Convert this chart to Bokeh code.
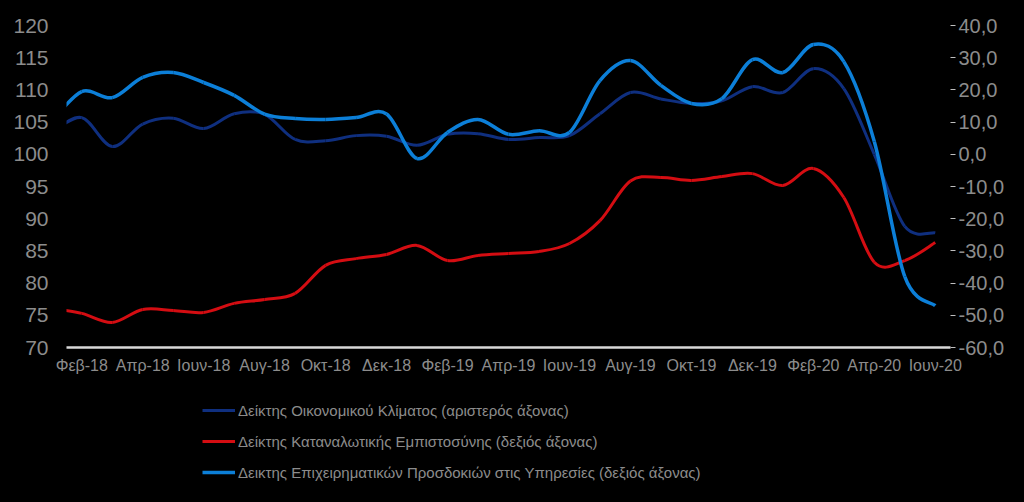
import numpy as np
from bokeh.plotting import figure
from bokeh.layouts import column
from bokeh.models import Range1d, LinearAxis, FixedTicker, Legend, LegendItem, ColumnDataSource
from bokeh.embed import file_html
from bokeh.resources import INLINE

# ---- data (monthly, Jan-18 .. Jun-20) ----
months = ["Ιαν-18", "Φεβ-18", "Μαρ-18", "Απρ-18", "Μαϊ-18", "Ιουν-18", "Ιουλ-18", "Αυγ-18",
          "Σεπ-18", "Οκτ-18", "Νοε-18", "Δεκ-18",
          "Ιαν-19", "Φεβ-19", "Μαρ-19", "Απρ-19", "Μαϊ-19", "Ιουν-19", "Ιουλ-19", "Αυγ-19",
          "Σεπ-19", "Οκτ-19", "Νοε-19", "Δεκ-19",
          "Ιαν-20", "Φεβ-20", "Μαρ-20", "Απρ-20", "Μαϊ-20", "Ιουν-20"]

economic_climate = [103.3, 105.7, 101.2, 104.7, 105.6, 104.0, 106.3, 106.2, 102.3, 102.1, 102.9, 102.8,
                    101.4, 103.1, 103.2, 102.3, 102.6, 102.9, 106.3, 109.6, 108.6, 107.9, 108.3, 110.5,
                    109.6, 113.3, 110.2, 100.0, 88.8, 87.8]

consumer_confidence = [-47.8, -49.4, -52.2, -48.2, -48.5, -49.1, -46.3, -45.1, -43.2, -34.5, -32.4, -31.1,
                       -28.3, -33.0, -31.4, -30.8, -30.2, -27.7, -20.6, -8.3, -7.2, -8.1, -6.9, -6.0,
                       -9.7, -4.4, -13.4, -33.5, -33.0, -27.4]

services_expectations = [10.0, 19.5, 17.6, 23.9, 25.4, 22.3, 18.3, 12.5, 11.1, 10.8, 11.4, 12.5,
                         -1.3, 6.8, 10.8, 6.2, 7.3, 6.8, 22.9, 29.1, 21.4, 15.8, 17.3, 29.4,
                         25.4, 34.1, 28.8, 4.0, -38.0, -47.0]

series_names = ["Δείκτης Οικονομικού Κλίματος (αριστερός άξονας)",
                "Δείκτης Καταναλωτικής Εμπιστοσύνης (δεξιός άξονας)",
                "Δεικτης Επιχειρηματικών Προσδοκιών στις Υπηρεσίες (δεξιός άξονας)"]

left_ticks = [70, 75, 80, 85, 90, 95, 100, 105, 110, 115, 120]
right_ticks = [-60, -50, -40, -30, -20, -10, 0, 10, 20, 30, 40]

# x positions: month index, Feb-18 = 0
x_idx = np.arange(len(months)) - 1
label_idx = list(range(0, 29, 2))

NAVY = "#0f2f7f"
RED = "#d40d12"
BLUE = "#0c7fd8"
GREY = "#8c8c8c"
FONT = "Liberation Sans"


def smooth_source(xs, ys):
    """Bezier segments (Catmull-Rom style control points) between consecutive data points."""
    xs = np.asarray(xs, float)
    ys = np.asarray(ys, float)
    n = len(xs)
    px = np.concatenate([[xs[0]], xs, [xs[-1]]])
    py = np.concatenate([[ys[0]], ys, [ys[-1]]])
    i = np.arange(1, n)
    x0, y0 = px[i], py[i]
    x1, y1 = px[i + 1], py[i + 1]
    cx0 = x0 + (px[i + 1] - px[i - 1]) / 6.0
    cy0 = y0 + (py[i + 1] - py[i - 1]) / 6.0
    cx1 = x1 - (px[i + 2] - px[i]) / 6.0
    cy1 = y1 - (py[i + 2] - py[i]) / 6.0
    return ColumnDataSource(dict(x0=x0, y0=y0, x1=x1, y1=y1, cx0=cx0, cy0=cy0, cx1=cx1, cy1=cy1))


p = figure(width=1024, height=380, output_backend="svg", toolbar_location=None,
           x_range=Range1d(-0.5, 28.5), y_range=Range1d(70, 120),
           min_border_left=66, min_border_right=74, min_border_top=25, min_border_bottom=33)
p.extra_y_ranges = {"right": Range1d(-60, 40)}

p.background_fill_color = "black"
p.border_fill_color = None
p.outline_line_color = None
p.xgrid.visible = False
p.ygrid.visible = False

# left axis
ya = p.yaxis[0]
ya.ticker = FixedTicker(ticks=left_ticks)
ya.axis_line_color = None
ya.major_tick_line_color = None
ya.minor_tick_line_color = None
ya.major_tick_out = 0
ya.major_label_standoff = 18
ya.major_label_text_color = GREY
ya.major_label_text_font = FONT
ya.major_label_text_font_size = "21px"

# right axis
ra = LinearAxis(y_range_name="right", ticker=FixedTicker(ticks=right_ticks))
ra.major_label_overrides = {v: f"{v:.1f}".replace(".", ",") for v in right_ticks}
ra.axis_line_color = None
ra.major_tick_line_color = "#bfbfbf"
ra.major_tick_in = 0
ra.major_tick_out = 5
ra.minor_tick_line_color = None
ra.major_label_standoff = 3
ra.major_label_text_color = GREY
ra.major_label_text_font = FONT
ra.major_label_text_font_size = "20px"
p.add_layout(ra, "right")

# x axis
xa = p.xaxis[0]
xa.ticker = FixedTicker(ticks=label_idx)
xa.major_label_overrides = {int(i): months[i + 1] for i in label_idx}
xa.axis_line_color = "#d9d9d9"
xa.axis_line_width = 2.5
xa.major_tick_line_color = None
xa.minor_tick_line_color = None
xa.major_tick_out = 0
xa.major_label_standoff = 9
xa.major_label_text_color = GREY
xa.major_label_text_font = FONT
xa.major_label_text_font_size = "16px"

# lines (smoothed through the monthly points)
common = dict(x0="x0", y0="y0", x1="x1", y1="y1", cx0="cx0", cy0="cy0", cx1="cx1", cy1="cy1")
p.bezier(source=smooth_source(x_idx, economic_climate), line_color=NAVY, line_width=3, **common)
p.bezier(source=smooth_source(x_idx, consumer_confidence), line_color=RED, line_width=3,
         y_range_name="right", **common)
p.bezier(source=smooth_source(x_idx, services_expectations), line_color=BLUE, line_width=3.5,
         y_range_name="right", **common)

# ---- legend in its own strip below the chart (its frame is aligned with the chart's) ----
lf = figure(width=1024, height=122, output_backend="svg", toolbar_location=None,
            x_range=Range1d(-100, -99), y_range=Range1d(-1000, -999),
            min_border_left=66, min_border_right=74, min_border_top=0, min_border_bottom=0)
lf.axis.visible = False
lf.xgrid.visible = False
lf.ygrid.visible = False
lf.background_fill_color = "black"
lf.border_fill_color = None
lf.outline_line_color = None

# legend renderers carry the series but lie outside this strip's (empty) ranges
r1 = lf.line(x=x_idx, y=economic_climate, line_color=NAVY, line_width=3)
r2 = lf.line(x=x_idx, y=consumer_confidence, line_color=RED, line_width=3)
r3 = lf.line(x=x_idx, y=services_expectations, line_color=BLUE, line_width=3.5)
legend = Legend(items=[LegendItem(label=series_names[0], renderers=[r1]),
                       LegendItem(label=series_names[1], renderers=[r2]),
                       LegendItem(label=series_names[2], renderers=[r3])],
                location=(136, 20), orientation="vertical",
                background_fill_alpha=0, border_line_color=None,
                padding=0, margin=0, spacing=11,
                glyph_width=33, glyph_height=20, label_height=20, label_standoff=3,
                label_text_color=GREY, label_text_font=FONT, label_text_font_size="15px")
lf.add_layout(legend, "center")

layout = column(p, lf, spacing=0)
html = file_html(layout, INLINE)
html = html.replace("<head>", "<head><style>html, body { background-color: #000000 !important; margin: 0; }</style>", 1)
open("out.html", "w").write(html)
